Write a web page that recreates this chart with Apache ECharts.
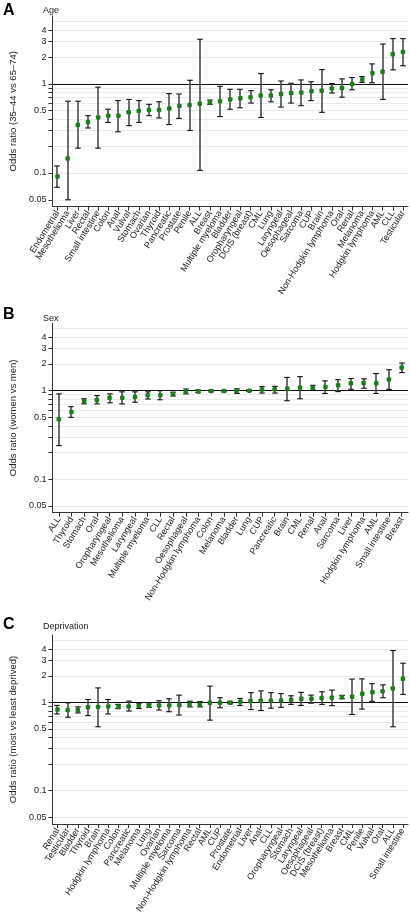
<!DOCTYPE html>
<html>
<head>
<meta charset="utf-8">
<script src="https://cdn.jsdelivr.net/npm/echarts@6/dist/echarts.min.js"></script>
<style>
html,body{margin:0;padding:0;background:#fff;}
#c{width:410px;height:917px;}
</style>
</head>
<body>
<div id="c"></div>
<script>
// Panel A: Age (35-44 vs 65-74)
const catsA = ["Endometrial","Mesothelioma","Liver","Rectal","Small intestine","Colon","Anal","Vulval","Stomach","Ovarian","Thyroid","Pancreatic","Prostate","Penile","ALL","Breast","Multiple myeloma","Bladder","Oropharyngeal","DCIS (breast)","CML","Lung","Laryngeal","Oesophageal","Sarcoma","CUP","Brain","Non-Hodgkin lymphoma","Oral","Renal","Melanoma","Hodgkin lymphoma","AML","CLL","Testicular"];
const orA = [0.091,0.145,0.346,0.374,0.42,0.44,0.44,0.48,0.497,0.51,0.51,0.53,0.566,0.58,0.6,0.62,0.64,0.67,0.69,0.71,0.74,0.74,0.77,0.79,0.80,0.83,0.84,0.89,0.90,1.0,1.12,1.32,1.37,2.15,2.29];
const loA = [0.069,0.05,0.19,0.32,0.19,0.37,0.29,0.34,0.37,0.44,0.415,0.35,0.41,0.30,0.107,0.59,0.43,0.52,0.54,0.61,0.42,0.63,0.55,0.61,0.57,0.65,0.48,0.79,0.71,0.86,1.04,1.03,0.67,1.44,1.6];
const hiA = [0.12,0.64,0.64,0.44,0.92,0.52,0.65,0.67,0.65,0.59,0.63,0.78,0.77,1.1,3.18,0.66,0.94,0.87,0.87,0.84,1.31,0.86,1.08,1.02,1.11,1.06,1.45,1.01,1.14,1.18,1.21,1.68,2.81,3.23,3.23];

// Panel B: Sex (women vs men)
const catsB = ["ALL","Thyroid","Stomach","Oral","Oropharyngeal","Mesothelioma","Laryngeal","Multiple myeloma","CLL","Rectal","Oesophageal","Non-Hodgkin lymphoma","Colon","Melanoma","Bladder","Lung","CUP","Pancreatic","Brain","CML","Renal","Anal","Sarcoma","Liver","Hodgkin lymphoma","AML","Small intestine","Breast"];
const orB = [0.475,0.575,0.76,0.785,0.83,0.83,0.85,0.89,0.89,0.92,0.975,0.98,0.99,0.99,0.99,1.0,1.03,1.035,1.05,1.08,1.08,1.10,1.15,1.21,1.22,1.21,1.34,1.82];
const loB = [0.24,0.5,0.71,0.71,0.73,0.71,0.74,0.805,0.79,0.87,0.92,0.95,0.97,0.97,0.93,0.98,0.94,0.94,0.77,0.81,1.02,0.93,0.975,1.035,1.065,0.93,1.035,1.6];
const hiB = [0.92,0.66,0.81,0.88,0.92,0.97,0.97,0.97,1.0,0.96,1.045,1.02,1.01,1.01,1.05,1.02,1.11,1.12,1.41,1.44,1.15,1.29,1.33,1.37,1.36,1.56,1.72,2.05];

// Panel C: Deprivation (most vs least deprived)
const catsC = ["Renal","Testicular","Bladder","Thyroid","Brain","Hodgkin lymphoma","Colon","Pancreatic","Melanoma","Lung","Ovarian","Multiple myeloma","Sarcoma","Non-Hodgkin lymphoma","Rectal","AML","CUP","Prostate","Endometrial","Liver","Anal","CLL","Oropharyngeal","Stomach","Laryngeal","Oesophageal","DCIS (breast)","Mesothelioma","Breast","CML","Penile","Vulval","Oral","ALL","Small intestine"];
const orC = [0.83,0.82,0.82,0.88,0.89,0.90,0.90,0.90,0.917,0.917,0.925,0.925,0.93,0.95,0.95,0.99,0.99,0.99,1.02,1.035,1.045,1.045,1.05,1.07,1.10,1.10,1.12,1.13,1.15,1.16,1.25,1.30,1.34,1.44,1.85];
const loC = [0.74,0.68,0.76,0.71,0.53,0.74,0.85,0.80,0.855,0.88,0.82,0.785,0.72,0.89,0.89,0.63,0.87,0.97,0.925,0.83,0.81,0.86,0.88,0.95,0.925,0.98,0.95,0.92,1.10,0.73,0.84,1.03,1.13,0.53,1.23];
const hiC = [0.925,0.99,0.89,1.08,1.46,1.08,0.95,1.035,0.98,0.96,1.045,1.10,1.21,1.03,1.02,1.53,1.13,1.03,1.11,1.29,1.35,1.29,1.26,1.19,1.30,1.21,1.32,1.38,1.2,1.84,1.85,1.63,1.58,3.87,2.78];

const panelTitles = ["Age","Sex","Deprivation"];
const panelLetters = ["A","B","C"];
const yTitles = ["Odds ratio (35\u201344 vs 65\u201374)","Odds ratio (women vs men)","Odds ratio (most vs least deprived)"];
const yLabelVals = [0.05,0.1,0.5,1,2,3,4,5];
const yTickVals = [0.05,0.1,0.2,0.3,0.4,0.5,0.6,0.7,0.8,0.9,1,2,3,4,5];

const FONT = '"Liberation Sans", Arial, Helvetica, sans-serif';
const panels = [
  {cats: catsA, or: orA, lo: loA, hi: hiA, top: 16, height: 190.5},
  {cats: catsB, or: orB, lo: loB, hi: hiB, top: 323, height: 189.7},
  {cats: catsC, or: orC, lo: loC, hi: hiC, top: 635, height: 189}
];

const grid = [], xAxis = [], yAxis = [], series = [], graphic = [];
panels.forEach((p, k) => {
  grid.push({left: 43, right: 2, top: p.top, height: p.height, containLabel: false});
  xAxis.push({
    type: 'category', gridIndex: k, data: p.cats, boundaryGap: true,
    axisLine: {show: true, lineStyle: {color: '#333', width: 1}},
    axisTick: {show: true, alignWithLabel: true, length: 4, lineStyle: {color: '#333'}},
    axisLabel: {interval: 0, rotate: 58, fontSize: 9, color: '#222', fontFamily: FONT, margin: 5},
    splitLine: {show: false}
  });
  yAxis.push({
    type: 'log', logBase: 10, gridIndex: k, min: 0.042, max: 5.8,
    name: yTitles[k], nameLocation: 'middle', nameGap: 33, nameRotate: 90,
    nameTextStyle: {fontSize: 9.5, color: '#222', fontFamily: FONT},
    axisLine: {show: true, lineStyle: {color: '#333', width: 1}},
    axisTick: {show: true, length: 4, lineStyle: {color: '#333'}, customValues: yTickVals},
    axisLabel: {fontSize: 9, color: '#222', fontFamily: FONT, margin: 6, customValues: yLabelVals,
      formatter: v => String(+(+v).toPrecision(2))},
    splitLine: {show: false},
    minorTick: {show: false}
  });
  const ml = yTickVals.map(v => v === 1
    ? {yAxis: v, lineStyle: {color: '#111', width: 1.2, type: 'solid'}}
    : {yAxis: v, lineStyle: {color: '#e6ecee', width: 1, type: 'solid'}});
  series.push({
    type: 'scatter', xAxisIndex: k, yAxisIndex: k, data: [], z: 0, silent: true,
    markLine: {z: 0, silent: true, symbol: 'none', label: {show: false}, animation: false, data: ml}
  });
  series.push({
    type: 'custom', xAxisIndex: k, yAxisIndex: k, z: 2, silent: true,
    data: p.cats.map((c, i) => [i, p.lo[i], p.hi[i]]),
    encode: {x: 0, y: [1, 2]},
    renderItem: function (params, api) {
      const x = api.value(0);
      const a = api.coord([x, api.value(1)]);
      const b = api.coord([x, api.value(2)]);
      const cx = Math.round(a[0]);
      const hw = 2.8;
      return {type: 'group', children: [
        {type: 'line', shape: {x1: cx, y1: b[1], x2: cx, y2: a[1]}, style: {stroke: '#4a4a4a', lineWidth: 1.6}},
        {type: 'line', shape: {x1: cx - hw, y1: b[1], x2: cx + hw, y2: b[1]}, style: {stroke: '#111', lineWidth: 1.1}},
        {type: 'line', shape: {x1: cx - hw, y1: a[1], x2: cx + hw, y2: a[1]}, style: {stroke: '#111', lineWidth: 1.1}}
      ]};
    }
  });
  series.push({
    type: 'scatter', xAxisIndex: k, yAxisIndex: k, z: 3, silent: true,
    symbol: 'roundRect', symbolSize: 4.5,
    itemStyle: {color: '#1b7d1b', opacity: 1},
    data: p.cats.map((c, i) => [i, p.or[i]])
  });
});

const letterY = [3, 307, 617];
const subY = [6, 314, 622];
for (let k = 0; k < 3; k++) {
  graphic.push({type: 'text', left: 3, top: letterY[k], style: {text: panelLetters[k], font: 'bold 16px ' + FONT, fill: '#000'}});
  graphic.push({type: 'text', left: 43, top: subY[k], style: {text: panelTitles[k], font: '9px ' + FONT, fill: '#222'}});
}

const chart = echarts.init(document.getElementById('c'), null, {renderer: 'canvas'});
chart.setOption({animation: false, grid, xAxis, yAxis, series, graphic});
</script>
</body>
</html>
